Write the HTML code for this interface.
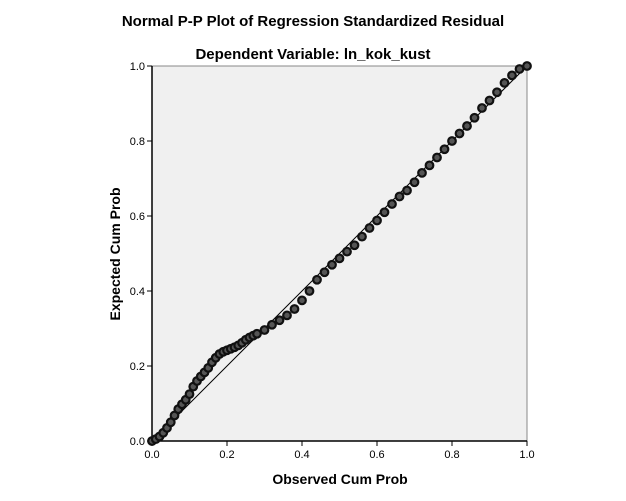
<!DOCTYPE html>
<html><head><meta charset="utf-8"><style>
body{margin:0;background:#fff;}
svg{display:block;font-family:"Liberation Sans",Arial,sans-serif;}
</style></head><body>
<svg width="626" height="501" viewBox="0 0 626 501">
<text x="313" y="26" text-anchor="middle" font-size="15" font-weight="bold" fill="#000">Normal P-P Plot of Regression Standardized Residual</text>
<text x="313" y="59" text-anchor="middle" font-size="15" font-weight="bold" fill="#000">Dependent Variable: ln_kok_kust</text>
<rect x="152" y="66" width="375" height="375" fill="#f0f0f0" stroke="#888" stroke-width="1"/>
<g id="axes"></g>
<g id="marks"></g>
<text x="340" y="484" text-anchor="middle" font-size="14" font-weight="bold">Observed Cum Prob</text>
<text transform="translate(120,254) rotate(-90)" text-anchor="middle" font-size="14" font-weight="bold">Expected Cum Prob</text>
</svg>
<script>
const ticks=[0,0.2,0.4,0.6,0.8,1.0];
const tickLabels=["0.0","0.2","0.4","0.6","0.8","1.0"];
const observed=[0,.01,.02,.03,.04,.05,.06,.07,.08,.09,.10,.11,.12,.13,.14,.15,.16,.17,.18,.19,.20,.21,.22,.23,.24,.25,.26,.27,.28,.30,.32,.34,.36,.38,.40,.42,.44,.46,.48,.50,.52,.54,.56,.58,.60,.62,.64,.66,.68,.70,.72,.74,.76,.78,.80,.82,.84,.86,.88,.90,.92,.94,.96,.98,1];
const expected=[0,.005,.012,.022,.035,.05,.068,.085,.098,.11,.125,.145,.16,.172,.183,.195,.21,.222,.232,.238,.242,.246,.25,.255,.262,.27,.276,.281,.286,.296,.31,.322,.335,.352,.375,.40,.43,.45,.47,.487,.505,.522,.545,.568,.588,.61,.632,.652,.668,.69,.715,.735,.756,.778,.80,.82,.84,.862,.888,.908,.93,.955,.975,.992,1];
const X0=152,Y0=441,W=375,H=375;
const sx=v=>X0+v*W, sy=v=>Y0-v*H;
const NS="http://www.w3.org/2000/svg";
const axes=document.getElementById('axes'), marks=document.getElementById('marks');
function mk(tag,attrs,parent){const e=document.createElementNS(NS,tag);for(const k in attrs)e.setAttribute(k,attrs[k]);parent.appendChild(e);return e;}
const xl=mk('line',{x1:X0,y1:Y0,x2:X0+W,y2:Y0,stroke:'#000','stroke-width':1.5},axes);


const yl=mk('line',{x1:X0,y1:Y0,x2:X0,y2:Y0-H,stroke:'#000','stroke-width':1.5},axes);


ticks.forEach((t,i)=>{
  mk('line',{x1:sx(t),y1:Y0,x2:sx(t),y2:Y0+5,stroke:'#000'},axes);
  const tx=mk('text',{x:sx(t),y:Y0+17,'text-anchor':'middle','font-size':11},axes);
  tx.textContent=tickLabels[i];
  
  
  mk('line',{x1:X0-5,y1:sy(t),x2:X0,y2:sy(t),stroke:'#000'},axes);
  const ty=mk('text',{x:X0-7,y:sy(t)+4,'text-anchor':'end','font-size':11},axes);
  ty.textContent=tickLabels[i];
  
  
});
const ref=mk('line',{x1:sx(0),y1:sy(0),x2:sx(1),y2:sy(1),stroke:'#000','stroke-width':1},marks);


observed.forEach((o,i)=>{
  const c=mk('circle',{cx:sx(o),cy:sy(expected[i]),r:3.8,fill:'#555',stroke:'#111','stroke-width':2.2},marks);
  
  
});
</script>
</body></html>
